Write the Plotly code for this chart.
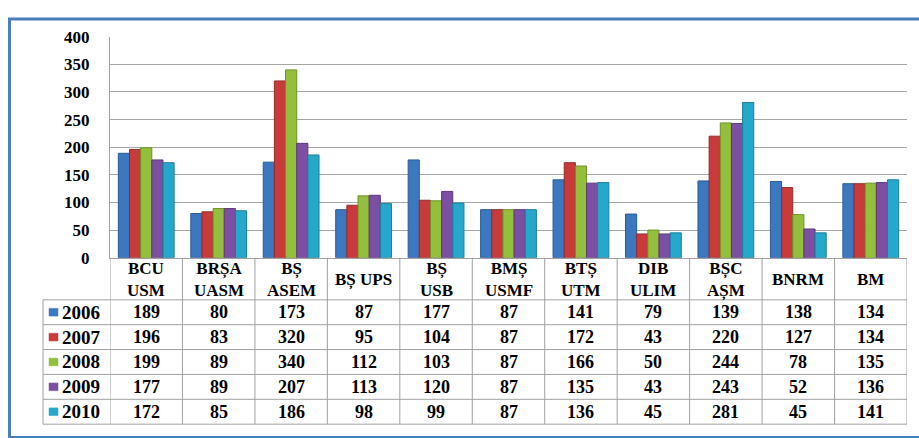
import plotly.graph_objects as go

# ---------------- data ----------------
categories = ["BCU<br>USM", "BRȘA<br>UASM", "BȘ<br>ASEM", "BȘ UPS", "BȘ<br>USB",
              "BMȘ<br>USMF", "BTȘ<br>UTM", "DIB<br>ULIM", "BȘC<br>AȘM", "BNRM", "BM"]
years = ["2006", "2007", "2008", "2009", "2010"]
v2006 = [189, 80, 173, 87, 177, 87, 141, 79, 139, 138, 134]
v2007 = [196, 83, 320, 95, 104, 87, 172, 43, 220, 127, 134]
v2008 = [199, 89, 340, 112, 103, 87, 166, 50, 244, 78, 135]
v2009 = [177, 89, 207, 113, 120, 87, 135, 43, 243, 52, 136]
v2010 = [172, 85, 186, 98, 99, 87, 136, 45, 281, 45, 141]
series = [v2006, v2007, v2008, v2009, v2010]
y_ticks = [0, 50, 100, 150, 200, 250, 300, 350, 400]

# ---------------- styling ----------------
colors = ["#3B78C0", "#C93A3A", "#93BF3C", "#7D4FA3", "#26A8CA"]
edges = ["#2A5A94", "#962A2A", "#6E9128", "#5B387A", "#1A7F99"]
W, H = 919, 438
FONT = "Liberation Serif"
GRID = "#A6A6A6"
TLINE = "#A0A0A0"

def px(x):
    return x / W

def py(y):
    return 1 - y / H

plot_left, plot_right = 110, 907
plot_top, plot_bottom = 29, 260
header_bottom = 304
row_h = 26
label_left = 43

fig = go.Figure()
xidx = list(range(len(categories)))
for yr, vals, c, e in zip(years, series, colors, edges):
    fig.add_trace(go.Bar(x=xidx, y=vals, name=yr, marker=dict(color=c, line=dict(color=e, width=1)),
                         showlegend=False, hoverinfo="skip"))

shapes = []
annotations = []

# frame
shapes.append(dict(type="rect", xref="paper", yref="paper", x0=px(9.5), x1=px(W + 10),
                   y0=py(H + 10), y1=py(10.5), line=dict(color="#4A7EBB", width=3), layer="below"))

n = len(categories)
table_bottom = header_bottom + row_h * len(years)
# vertical table lines
for i in range(n + 1):
    shapes.append(dict(type="line", xref="x", yref="paper", x0=i - 0.5, x1=i - 0.5,
                       y0=py(plot_bottom), y1=py(table_bottom), line=dict(color=TLINE, width=1)))
shapes.append(dict(type="line", xref="paper", yref="paper", x0=px(label_left), x1=px(label_left),
                   y0=py(header_bottom), y1=py(table_bottom), line=dict(color=TLINE, width=1)))
# horizontal table lines
for r in range(len(years) + 1):
    yy = py(header_bottom + r * row_h)
    shapes.append(dict(type="line", xref="paper", yref="paper", x0=px(label_left), x1=px(plot_right),
                       y0=yy, y1=yy, line=dict(color=TLINE, width=1)))

# header labels
for i, cat in enumerate(categories):
    annotations.append(dict(x=i, y=py((plot_bottom + header_bottom) / 2 + 1), xref="x", yref="paper",
                            text="<b>" + cat + "</b>", showarrow=False, xanchor="center", yanchor="middle",
                            font=dict(family=FONT, size=17, color="black")))
# rows
for r, (yr, vals, c) in enumerate(zip(years, series, colors)):
    yc = header_bottom + r * row_h + row_h / 2
    shapes.append(dict(type="rect", xref="paper", yref="paper", x0=px(49), x1=px(58),
                       y0=py(yc + 4), y1=py(yc - 4), fillcolor=c, line=dict(color=c, width=0.5)))
    annotations.append(dict(x=px(60), y=py(yc), xref="paper", yref="paper", text="<b>" + yr + "</b>",
                            showarrow=False, xanchor="left", yanchor="middle",
                            font=dict(family=FONT, size=19, color="black")))
    for i, v in enumerate(vals):
        annotations.append(dict(x=i, y=py(yc), xref="x", yref="paper", text="<b>" + str(v) + "</b>",
                                showarrow=False, xanchor="center", yanchor="middle",
                                font=dict(family=FONT, size=18, color="black")))

fig.update_layout(
    width=W, height=H, autosize=False,
    margin=dict(l=0, r=0, t=0, b=0),
    paper_bgcolor="white", plot_bgcolor="white",
    barmode="group", bargap=0.23, bargroupgap=0,
    shapes=shapes, annotations=annotations,
    xaxis=dict(domain=[px(plot_left), px(plot_right)], range=[-0.5, n - 0.5],
               showticklabels=False, showgrid=False, zeroline=False, ticks="",
               showline=True, linecolor=TLINE, linewidth=1, fixedrange=True),
    yaxis=dict(domain=[py(plot_bottom), py(plot_top)], range=[0, 400], tickvals=y_ticks,
               ticktext=["<b>%d</b>" % t for t in y_ticks],
               tickfont=dict(family=FONT, size=17, color="black"), ticklabelstandoff=16,
               showgrid=True, gridcolor=GRID, gridwidth=1, zeroline=False, ticks="",
               showline=True, linecolor=TLINE, linewidth=1, mirror=False, fixedrange=True),
)

post = ("document.documentElement.style.margin='0';document.body.style.margin='0';"
        "document.body.style.overflow='hidden';document.documentElement.style.overflow='hidden';")
fig.write_html("out.html", config={"displayModeBar": False, "responsive": False}, post_script=post)
